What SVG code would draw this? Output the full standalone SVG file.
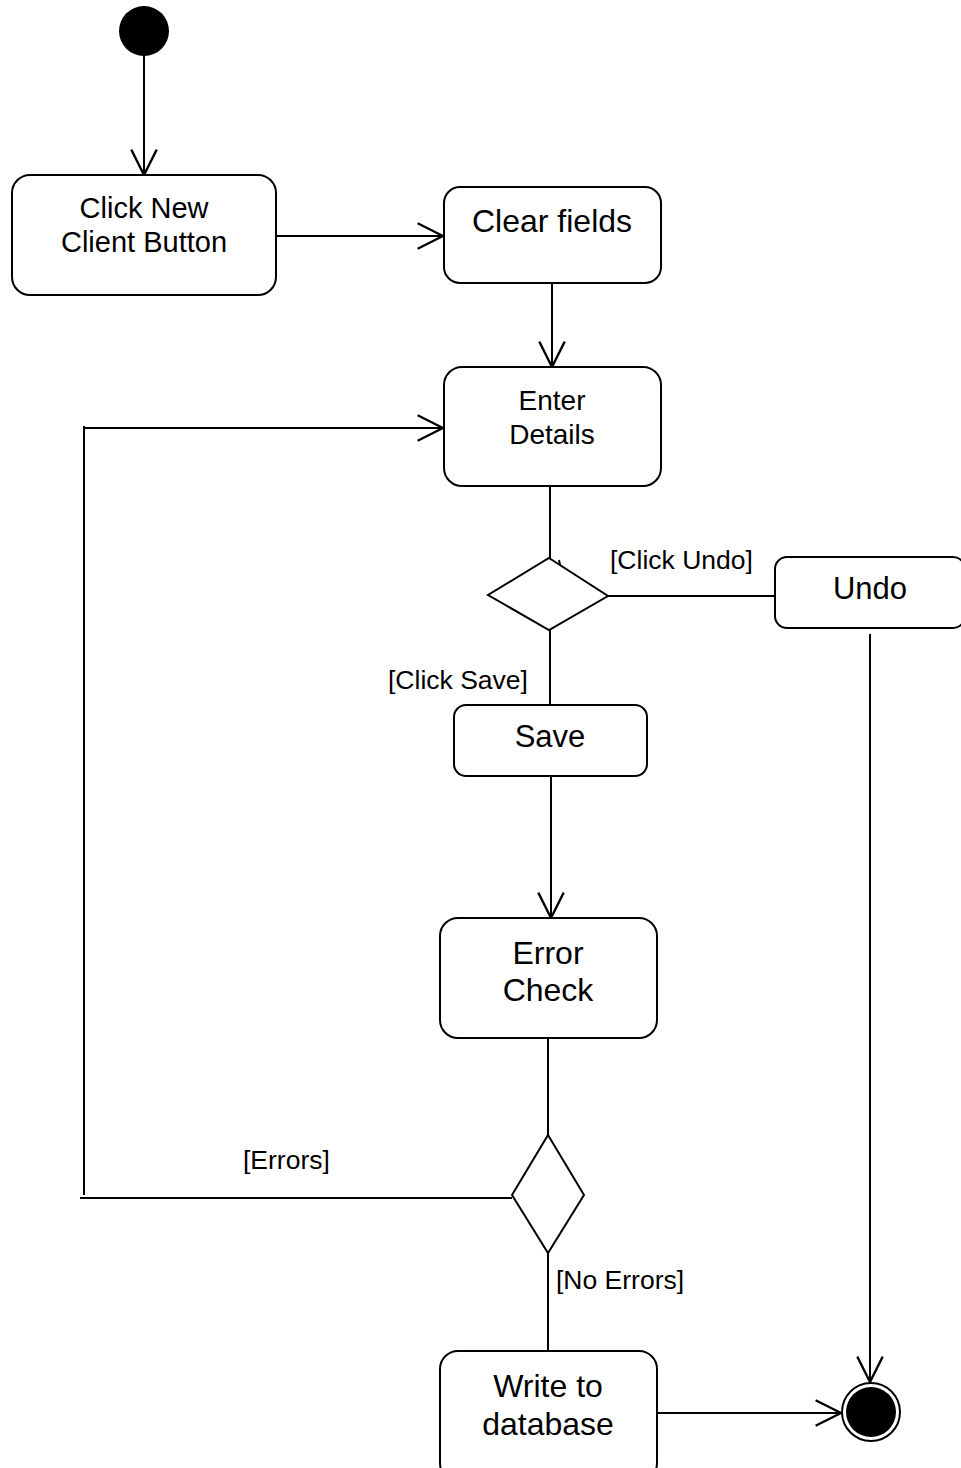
<svg xmlns="http://www.w3.org/2000/svg" width="961" height="1468" viewBox="0 0 961 1468">
  <style>
    .box { fill: #ffffff; stroke: #000000; stroke-width: 2; }
    .line { fill: none; stroke: #000000; stroke-width: 2; }
    .t { font-family: "Liberation Sans", Arial, sans-serif; fill: #000000; text-anchor: middle; }
    .lbl { font-family: "Liberation Sans", Arial, sans-serif; fill: #000000; font-size: 26.5px; }
  </style>
  <defs>
    <marker id="open" markerUnits="userSpaceOnUse" markerWidth="30" markerHeight="30" viewBox="-24 -13 26 26" refX="0" refY="0" orient="auto">
      <path d="M -22 -11 L 0 0 L -22 11" fill="none" stroke="#000000" stroke-width="2"/>
    </marker>
  </defs>

  <!-- connectors -->
  <g id="connectors">
    <line class="line" x1="144" y1="56" x2="144" y2="175" marker-end="url(#open)"/>
    <line class="line" x1="276" y1="236" x2="443" y2="236" marker-end="url(#open)"/>
    <line class="line" x1="552" y1="283" x2="552" y2="367" marker-end="url(#open)"/>
    <line class="line" x1="550" y1="486" x2="550" y2="558"/>
    <line class="line" x1="559" y1="560" x2="560" y2="565"/>
    <line class="line" x1="608" y1="596" x2="775" y2="596"/>
    <line class="line" x1="550" y1="630" x2="550" y2="705"/>
    <line class="line" x1="870" y1="634" x2="870" y2="1382" marker-end="url(#open)"/>
    <line class="line" x1="551" y1="776" x2="551" y2="918" marker-end="url(#open)"/>
    <line class="line" x1="548" y1="1038" x2="548" y2="1135"/>
    <line class="line" x1="512" y1="1198" x2="80" y2="1198"/>
    <line class="line" x1="84" y1="1195" x2="84" y2="426"/>
    <line class="line" x1="84" y1="428" x2="443" y2="428" marker-end="url(#open)"/>
    <line class="line" x1="548" y1="1253" x2="548" y2="1352"/>
    <line class="line" x1="657" y1="1413" x2="841" y2="1413" marker-end="url(#open)"/>
    <text class="lbl" x="610" y="569">[Click Undo]</text>
    <text class="lbl" x="388" y="689">[Click Save]</text>
    <text class="lbl" x="243" y="1169">[Errors]</text>
    <text class="lbl" x="556" y="1289">[No Errors]</text>
  </g>

  <g id="start">
    <circle cx="144" cy="31" r="25" fill="#000000"/>
  </g>

  <g id="click-new-client">
    <rect class="box" x="12" y="175" width="264" height="120" rx="18"/>
    <text class="t" x="144" y="218" font-size="29">Click New</text>
    <text class="t" x="144" y="252" font-size="29">Client Button</text>
  </g>

  <g id="clear-fields">
    <rect class="box" x="444" y="187" width="217" height="96" rx="16"/>
    <text class="t" x="552" y="232" font-size="32">Clear fields</text>
  </g>

  <g id="enter-details">
    <rect class="box" x="444" y="367" width="217" height="119" rx="18"/>
    <text class="t" x="552" y="410" font-size="28">Enter</text>
    <text class="t" x="552" y="444" font-size="28">Details</text>
  </g>

  <g id="undo-decision">
    <polygon class="box" points="549,558 608,596 549,630 488,595"/>
  </g>

  <g id="undo">
    <rect class="box" x="775" y="557" width="190" height="71" rx="12"/>
    <text class="t" x="870" y="599" font-size="31">Undo</text>
  </g>

  <g id="save">
    <rect class="box" x="454" y="705" width="193" height="71" rx="12"/>
    <text class="t" x="550" y="747" font-size="31">Save</text>
  </g>

  <g id="error-check">
    <rect class="box" x="440" y="918" width="217" height="120" rx="18"/>
    <text class="t" x="548" y="964" font-size="32">Error</text>
    <text class="t" x="548" y="1001" font-size="32">Check</text>
  </g>

  <g id="error-decision">
    <polygon class="box" points="548,1135 584,1195 548,1253 512,1195"/>
  </g>

  <g id="write-to-database">
    <rect class="box" x="440" y="1351" width="217" height="130" rx="18"/>
    <text class="t" x="548" y="1397" font-size="32">Write to</text>
    <text class="t" x="548" y="1435" font-size="32">database</text>
  </g>

  <g id="end">
    <circle cx="871" cy="1412" r="29" fill="#ffffff" stroke="#000000" stroke-width="2"/>
    <circle cx="871" cy="1412" r="25" fill="#000000"/>
  </g>
</svg>
